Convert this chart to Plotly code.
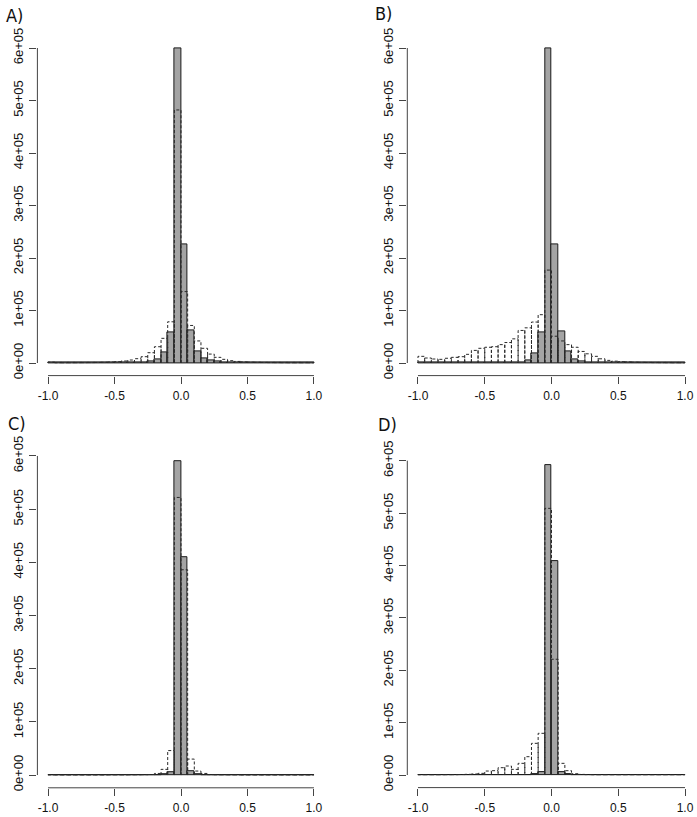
import plotly.graph_objects as go

# ---------------- data ----------------
BIN_START = -1.0
BIN_WIDTH = 0.05
N_BINS = 40

PANELS = ["A)", "B)", "C)", "D)"]

A_GREY = [1000, 300, 300, 300, 300, 300, 300, 400, 400, 500,
          600, 700, 900, 1200, 1700, 2500, 7000, 19600, 59000, 600000,
          225000, 62600, 22800, 8900, 4400, 2500, 1500, 1100, 900, 700,
          600, 500, 500, 400, 400, 300, 300, 300, 300, 300]
A_DASH = [1500, 500, 500, 500, 600, 700, 800, 1000, 1300, 1800,
          2500, 3800, 5700, 8200, 12000, 19600, 31000, 47000, 78500, 482000,
          136000, 71500, 42000, 28000, 17000, 10800, 7000, 4400, 3000, 2000,
          1500, 1200, 1000, 800, 700, 600, 500, 500, 500, 500]

B_GREY = [1000, 300, 300, 300, 300, 300, 300, 400, 400, 500,
          600, 700, 900, 1200, 1500, 2000, 5000, 18000, 58000, 600000,
          225000, 61000, 22000, 6300, 3000, 2000, 1500, 1100, 900, 700,
          600, 500, 500, 400, 400, 300, 300, 300, 300, 300]
B_DASH = [12700, 9500, 7600, 7000, 9000, 10800, 12000, 16500, 24000, 28000,
          30000, 31000, 35000, 39000, 46000, 62000, 67000, 78000, 92000, 177000,
          51000, 42000, 35000, 30000, 22000, 17500, 12700, 8000, 5000, 3500,
          2500, 2000, 1500, 1200, 1000, 800, 700, 600, 500, 500]

C_GREY = [200, 100, 100, 100, 100, 100, 100, 100, 100, 100,
          100, 100, 100, 100, 200, 300, 500, 1000, 5000, 591000,
          410000, 6300, 1000, 500, 300, 200, 100, 100, 100, 100,
          100, 100, 100, 100, 100, 100, 100, 100, 100, 100]
C_DASH = [300, 200, 200, 200, 200, 200, 200, 200, 200, 300,
          300, 300, 400, 500, 700, 1000, 3000, 10700, 46000, 522000,
          386000, 30000, 7500, 3000, 800, 500, 400, 300, 300, 200,
          200, 200, 200, 200, 200, 200, 200, 200, 200, 200]

D_GREY = [200, 100, 100, 100, 100, 100, 100, 100, 100, 100,
          100, 100, 100, 100, 200, 300, 500, 1000, 5000, 591000,
          409000, 6400, 1000, 500, 300, 200, 100, 100, 100, 100,
          100, 100, 100, 100, 100, 100, 100, 100, 100, 100]
D_DASH = [500, 500, 500, 500, 600, 700, 900, 1300, 2000, 3200,
          7600, 8300, 14000, 17200, 10800, 22300, 35000, 60500, 79600, 509000,
          221000, 22300, 8300, 2500, 1200, 800, 500, 500, 500, 500,
          500, 500, 500, 500, 500, 500, 500, 500, 500, 500]

GREY_SERIES = [A_GREY, B_GREY, C_GREY, D_GREY]
DASH_SERIES = [A_DASH, B_DASH, C_DASH, D_DASH]

XTICKS = [-1.0, -0.5, 0.0, 0.5, 1.0]
XTICK_LABELS = ["-1.0", "-0.5", "0.0", "0.5", "1.0"]
YTICKS = [0, 100000, 200000, 300000, 400000, 500000, 600000]
YTICK_LABELS = ["0e+00", "1e+05", "2e+05", "3e+05", "4e+05", "5e+05", "6e+05"]

# ---------------- layout geometry (pixels) ----------------
W, H = 697, 817
# (left, right, top, bottom) of each plotting region in pixels
REGIONS = [
    (37.4, 324.6, 35.4, 375.6),
    (407.3, 695.7, 35.4, 375.6),
    (37.4, 324.6, 443.2, 787.8),
    (407.3, 695.7, 448.1, 787.6),
]
LABEL_POS = [(4, 15), (373, 14), (6, 423), (376, 424)]

XRANGE = [-1.08, 1.08]
YRANGE = [-24000, 624000]

TICK_FONT_X = dict(family="Liberation Sans, Arial", size=12, color="#111")
TICK_FONT_Y = dict(family="Liberation Sans, Arial", size=13, color="#111")
LABEL_FONT = dict(family="DejaVu Sans Condensed, Liberation Sans, Arial",
                  size=18, color="#111")

fig = go.Figure()

lefts = [BIN_START + i * BIN_WIDTH for i in range(N_BINS)]
centers = [l + BIN_WIDTH / 2 for l in lefts]

shapes = []
annotations = []
for k in range(4):
    sfx = "" if k == 0 else str(k + 1)
    xa, ya = "x" + sfx, "y" + sfx
    grey = GREY_SERIES[k]
    dash = DASH_SERIES[k]

    fig.add_trace(go.Bar(
        x=centers, y=grey, width=[BIN_WIDTH] * N_BINS,
        marker=dict(color="#a4a4a4", line=dict(color="#1a1a1a", width=1)),
        xaxis=xa, yaxis=ya, showlegend=False, hoverinfo="skip",
    ))

    px, py = [], []
    for l, h in zip(lefts, dash):
        r = l + BIN_WIDTH
        px += [l, l, r, r, None]
        py += [0, h, h, 0, None]
    fig.add_trace(go.Scatter(
        x=px, y=py, mode="lines",
        line=dict(color="#2a2a2a", width=1, dash="3px,2px"),
        xaxis=xa, yaxis=ya, showlegend=False, hoverinfo="skip",
    ))

    l, r, t, b = REGIONS[k]
    fig.layout["xaxis" + sfx] = dict(
        domain=[l / W, r / W], range=XRANGE, anchor=ya,
        showgrid=False, zeroline=False, showline=False, automargin=False,
        tickvals=XTICKS, ticktext=XTICK_LABELS, ticks="outside",
        ticklen=7, tickwidth=1, tickcolor="#444", tickfont=TICK_FONT_X,
        ticklabelstandoff=2,
    )
    fig.layout["yaxis" + sfx] = dict(
        domain=[1 - b / H, 1 - t / H], range=YRANGE, anchor=xa,
        showgrid=False, zeroline=False, showline=False, automargin=False,
        tickvals=YTICKS, ticktext=YTICK_LABELS, ticks="outside",
        ticklen=7, tickwidth=1, tickcolor="#444", tickfont=TICK_FONT_Y,
        tickangle=-90, ticklabelstandoff=1,
    )
    shapes.append(dict(type="line", xref=xa, yref=ya + " domain",
                       x0=XTICKS[0], x1=XTICKS[-1], y0=0, y1=0,
                       line=dict(color="#444", width=1)))
    shapes.append(dict(type="line", xref=xa + " domain", yref=ya,
                       x0=0, x1=0, y0=YTICKS[0], y1=YTICKS[-1],
                       line=dict(color="#444", width=1)))
    lx, ly = LABEL_POS[k]
    annotations.append(dict(text=PANELS[k], xref="paper", yref="paper",
                            x=lx / W, y=1 - ly / H, xanchor="left", yanchor="middle",
                            showarrow=False, font=LABEL_FONT))

fig.update_layout(
    width=W, height=H, margin=dict(l=0, r=0, t=0, b=0, autoexpand=False),
    paper_bgcolor="white", plot_bgcolor="white",
    barmode="overlay", bargap=0,
    shapes=shapes, annotations=annotations,
)

fig.write_html(
    "out.html",
    config={"displayModeBar": False},
    post_script="document.body.style.margin='0px';document.body.style.overflow='hidden';",
)
